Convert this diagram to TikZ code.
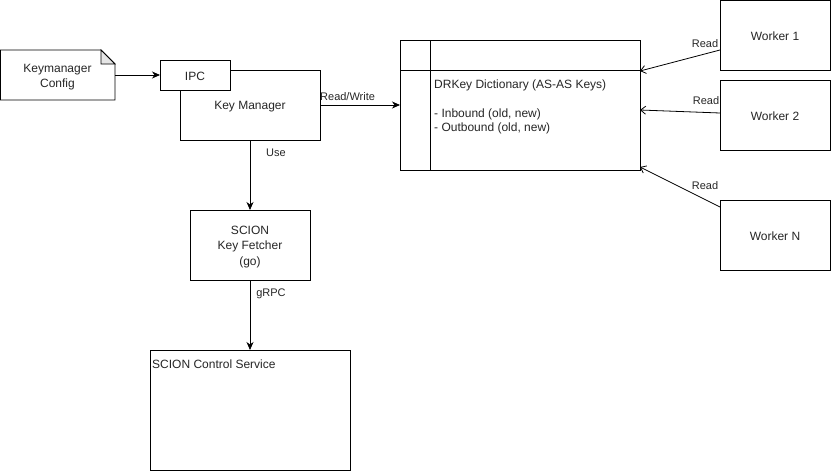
\documentclass[tikz,border=0pt]{standalone}
\usepackage{fontspec}
\setmainfont{Liberation Sans}
\usetikzlibrary{arrows.meta}
\begin{document}
\begin{tikzpicture}[x=1pt,y=-1pt,
  box/.style={draw=black,fill=white,line width=0.8pt,inner sep=0pt},
  txt/.style={font=\fontsize{12}{15.5}\selectfont,align=center,inner sep=0pt,text=black!85},
  lbl/.style={font=\fontsize{11}{13}\selectfont,inner sep=0pt,text=black!85},
  farrow/.style={draw=black,line width=0.8pt,-{Stealth[length=8pt,width=7pt,inset=2.5pt]}},
  oarrow/.style={draw=black,line width=0.8pt,-{Straight Barb[length=5pt,width=8pt]}}]
\useasboundingbox (0,0) rectangle (831,471);
% Keymanager Config note
\draw[line width=0.8pt,fill=white] (0.5,50) -- (101,50) -- (115,64) -- (115,100) -- (0.5,100) -- cycle;
\draw[line width=0.8pt,fill=black!10] (101,50) -- (101,64) -- (115,64) -- cycle;
\node[txt] (cfg) at (57.5,77) {Keymanager\\Config};
\coordinate (cfgE) at (115,75);
% Key Manager
\draw[box] (180,70) rectangle (320,140);
\node[txt] (km) at (250,106.5) {Key Manager};
\coordinate (kmE) at (320,105);
\coordinate (kmS) at (250,140);
% IPC
\draw[box] (160,60) rectangle (230,90);
\node[txt] (ipc) at (195,76.5) {IPC};
\coordinate (ipcW) at (160,75);
% SCION Key Fetcher
\draw[box] (190,210) rectangle (310,280);
\node[txt] (kf) at (250,247) {SCION\\Key Fetcher\\(go)};
\coordinate (kfN) at (250,210);
\coordinate (kfS) at (250,280);
% SCION Control Service
\draw[box] (150,350) rectangle (350,470);
\node[txt,anchor=west] (cs) at (152,364.5) {SCION Control Service};
\coordinate (csN) at (250,350);
% DRKey Dictionary
\draw[box] (400,40) rectangle (640,170);
\draw[line width=0.8pt] (400,70) -- (640,70);
\draw[line width=0.8pt] (430,40) -- (430,170);
\node[txt,anchor=west] (dict) at (434,85.5) {DRKey Dictionary (AS-AS Keys)};
\node[txt,anchor=west] (inb) at (434,114.5) {- Inbound (old, new)};
\node[txt,anchor=west] (outb) at (434,128.5) {- Outbound (old, new)};
\coordinate (dictW) at (400,105);
\coordinate (dA) at (640,71);
\coordinate (dB) at (640,110);
\coordinate (dC) at (640,167);
% Workers
\draw[box] (720,0.5) rectangle (830,70);
\node[txt] (w1) at (775,36.5) {Worker 1};
\draw[box] (720,80) rectangle (830,150);
\node[txt] (w2) at (775,116.5) {Worker 2};
\draw[box] (720,200) rectangle (830,270);
\node[txt] (wn) at (775,236.5) {Worker N};
\coordinate (w1W) at (720,50);
\coordinate (w2W) at (720,113);
\coordinate (wnW) at (720,207);
% connectors
\draw[farrow] (cfgE) -- (ipcW);
\draw[farrow] (kmE) -- (dictW);
\node[lbl,anchor=west] (rw) at (320,97) {Read/Write};
\draw[farrow] (kmS) -- (kfN);
\node[lbl] (use) at (276,153) {Use};
\draw[farrow] (kfS) -- (csN);
\node[lbl] (grpc) at (271,294) {gRPC};
\draw[oarrow] (w1W) -- (dA);
\node[lbl] (r1) at (705,44) {Read};
\draw[oarrow] (w2W) -- (dB);
\node[lbl] (r2) at (706,101) {Read};
\draw[oarrow] (wnW) -- (dC);
\node[lbl] (r3) at (705,186) {Read};
\end{tikzpicture}
\end{document}
